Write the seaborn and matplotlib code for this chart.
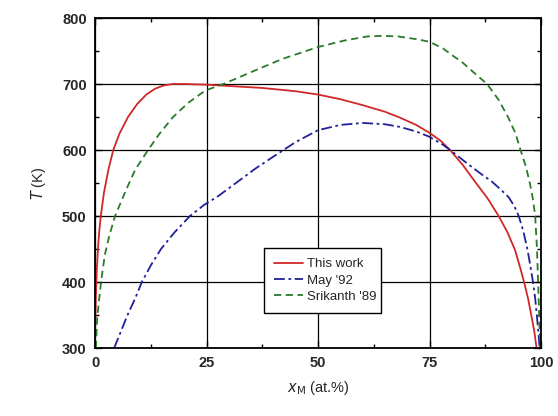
import matplotlib
matplotlib.use("Agg")
import matplotlib.pyplot as plt
import seaborn as sns
import pandas as pd
from matplotlib.ticker import MultipleLocator

# This work
this_x = [0, 0.1, 0.2, 0.4, 0.7, 1.0, 1.3, 2.0, 3.0, 4.1, 5.5, 7.4, 9.5, 11.5, 13.5, 15.5, 17.5, 20, 25, 30,
          37.5, 45, 50, 55, 60, 65, 68.4, 72, 75, 77.5, 79.6, 82.5, 85.2, 88, 90.5, 92.5, 94.2, 95.4, 96.2,
          97.1, 97.9, 98.5, 99.0]
this_T = [300, 350, 380, 418, 455, 480, 500, 535, 570, 600, 625, 650, 670, 684, 693, 698, 700, 700, 699, 697,
          694, 689, 684, 677, 668, 658, 649, 638, 626, 614, 600, 577, 552, 527, 500, 475, 448, 420, 400,
          375, 347, 325, 300]

# May '92
may_x = [4.3, 5.8, 7.3, 9.0, 10.5, 12.5, 14.8, 17.8, 21.3, 24.5, 27.6, 32, 36, 40, 45, 50, 55, 60, 65, 68.4,
         72, 75, 78, 80, 83, 86.3, 89, 91, 92.8, 94.0, 95.0, 96.0, 97.0, 97.6, 98.2, 98.7, 99.1, 99.4, 99.7]
may_T = [300, 325, 350, 375, 400, 425, 450, 475, 500, 517, 530, 552, 572, 590, 612, 630, 638, 641, 639, 635,
         628, 620, 608, 598, 582, 565, 552, 540, 528, 515, 500, 478, 448, 425, 400, 375, 347, 325, 300]

# Srikanth '89
sri_x = [0.2, 0.5, 1.35, 2.2, 3.2, 4.5, 7, 9, 11.9, 14.5, 17.5, 21, 24.7, 28.8, 35, 42, 50, 56, 61, 64.5, 68,
         72, 75, 78, 80, 82.5, 85, 87.9, 90.5, 92.6, 94.3, 95.4, 96.6, 97.5, 98.2, 98.7, 99.1, 99.35, 99.6, 99.8]
sri_T = [300, 347, 400, 441, 470, 500, 540, 570, 600, 625, 650, 672, 690, 700, 718, 738, 756, 766, 772, 773, 772,
         768, 764, 754, 744, 732, 717, 700, 676, 650, 625, 600, 575, 550, 525, 500, 450, 400, 350, 300]

series = ["This work", "May '92", "Srikanth '89"]

sns.set_theme(style="white")
plt.rcParams['font.family'] = ['Liberation Sans', 'DejaVu Sans']

fig = plt.figure(figsize=(5.58, 4.16), dpi=100)
ax = fig.add_axes([95/558, 68/416, (541-95)/558, (348-18)/416])

df1 = pd.DataFrame({"x": this_x, "T": this_T})
df2 = pd.DataFrame({"x": may_x, "T": may_T})
df3 = pd.DataFrame({"x": sri_x, "T": sri_T})

sns.lineplot(data=df1, x="x", y="T", sort=False, ax=ax, color="#d02828", lw=1.3, label=series[0])
sns.lineplot(data=df2, x="x", y="T", sort=False, ax=ax, color="#20209a", lw=1.3, label=series[1],
             linestyle=(0, (6, 2, 1.5, 2)))
sns.lineplot(data=df3, x="x", y="T", sort=False, ax=ax, color="#2a7a2a", lw=1.3, label=series[2],
             linestyle=(0, (4, 2.5)))

ax.set_xlim(0, 100)
ax.set_ylim(300, 800)
ax.xaxis.set_major_locator(MultipleLocator(25))
ax.xaxis.set_minor_locator(MultipleLocator(12.5))
ax.yaxis.set_major_locator(MultipleLocator(100))
ax.yaxis.set_minor_locator(MultipleLocator(50))
ax.grid(True, which="major", color="black", lw=0.9)
ax.set_axisbelow(True)
ax.tick_params(which="both", direction="in", top=True, right=True, bottom=True, left=True,
               color="black", width=1.0)
ax.tick_params(which="major", length=5, labelsize=10.5, pad=6)
ax.tick_params(which="minor", length=3)
for lab in ax.get_xticklabels() + ax.get_yticklabels():
    lab.set_fontweight("bold")
for s in ax.spines.values():
    s.set_color("black")
    s.set_linewidth(1.3)

ax.set_xlabel(r"$x_{\mathrm{M}}$ (at.%)", fontsize=10.5, labelpad=6)
ax.set_ylabel(r"$T$ (K)", fontsize=10.5, labelpad=10)

leg = ax.legend(loc="lower left", bbox_to_anchor=((257-95)/446, (348-320)/330, (388-257)/446, (320-248)/330),
                mode="expand", frameon=True, fancybox=False, fontsize=9.5, handlelength=2.2,
                borderpad=0.8, labelspacing=0.3, handletextpad=0.3)
leg.get_frame().set_edgecolor("black")
leg.get_frame().set_linewidth(1.0)
leg.get_frame().set_alpha(1)

fig.savefig("out.png", dpi=100)
